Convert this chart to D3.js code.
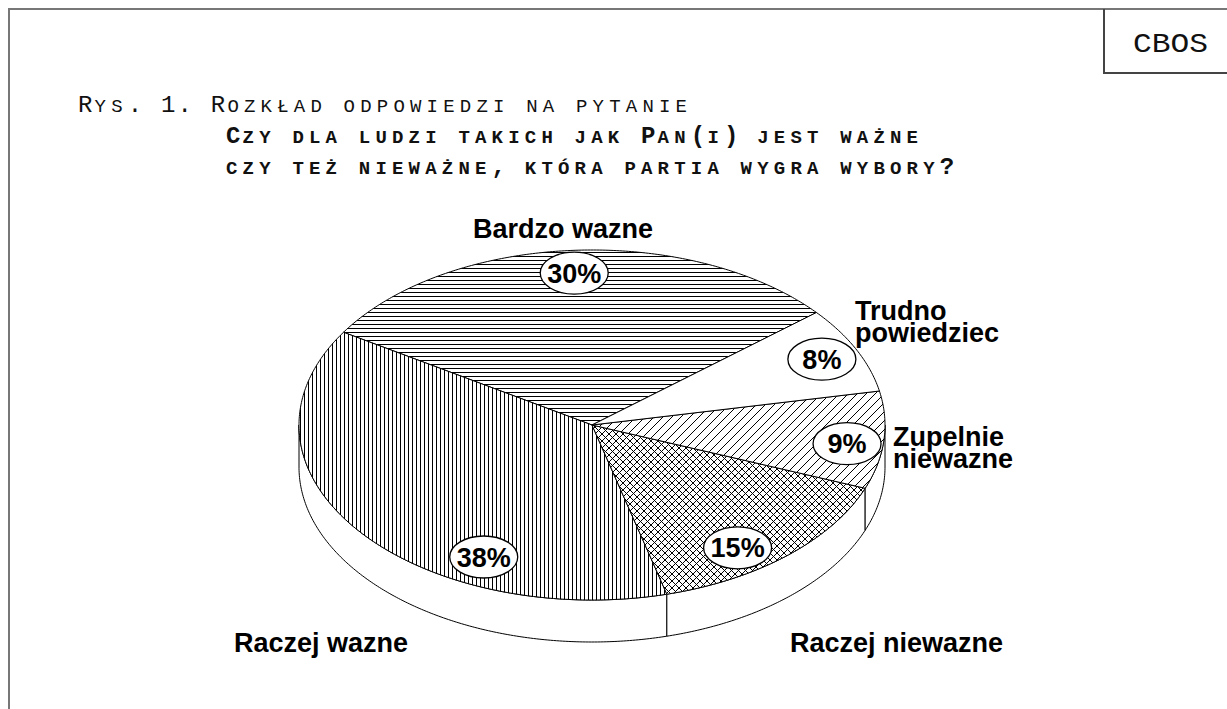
<!DOCTYPE html>
<html lang="pl">
<head>
<meta charset="UTF-8">
<title>CBOS - Rys. 1</title>
<script src="https://d3js.org/d3.v7.min.js"></script>
<style>
  body { margin: 0; background: #fff; }
  svg { display: block; }
</style>
</head>
<body>
<svg></svg>
<script>
const width = 1227, height = 709;

// data
const categories = ["Bardzo wazne", "Raczej wazne", "Raczej niewazne", "Zupelnie niewazne", "Trudno powiedziec"];
const values = [30, 38, 15, 9, 8];
const percentLabels = ["30%", "38%", "15%", "9%", "8%"];
const labelLines = [["Bardzo wazne"], ["Raczej wazne"], ["Raczej niewazne"], ["Zupelnie", "niewazne"], ["Trudno", "powiedziec"]];
const titleLines = [
  "Rys. 1. Rozkład odpowiedzi na pytanie",
  "Czy dla ludzi takich jak Pan(i) jest ważne",
  "czy też nieważne, która partia wygra wybory?"
];

// layout (pie is an ellipse with a 3D rim)
const cx = 592, cy = 425, rx = 293, ry = 175, depth = 42;
const rad = Math.PI / 180;

const fills = {
  "Bardzo wazne": "url(#hlines)",
  "Raczej wazne": "url(#vlines)",
  "Raczej niewazne": "url(#cross)",
  "Zupelnie niewazne": "url(#diag)",
  "Trudno powiedziec": "#fff"
};
// bubble nudges (degrees along the rim, radius fraction)
const bubbleShift = {
  "Bardzo wazne": [0, 0.87],
  "Raczej wazne": [-27.5, 0.84],
  "Raczej niewazne": [6.5, 0.86],
  "Zupelnie niewazne": [2, 0.877],
  "Trudno powiedziec": [0, 0.87]
};
const labelPos = {
  "Bardzo wazne": { x: 563, y: 238, anchor: "middle" },
  "Raczej wazne": { x: 234, y: 652, anchor: "start" },
  "Raczej niewazne": { x: 790, y: 652, anchor: "start" },
  "Zupelnie niewazne": { x: 893, y: 446, anchor: "start" },
  "Trudno powiedziec": { x: 855, y: 320, anchor: "start" }
};

const svg = d3.select("svg")
  .attr("width", width)
  .attr("height", height)
  .attr("viewBox", [0, 0, width, height]);

svg.append("rect").attr("width", width).attr("height", height).attr("fill", "#fff");

// hatch patterns
const defs = svg.append("defs");
function pattern(id, w, h, d) {
  const p = defs.append("pattern").attr("id", id)
    .attr("patternUnits", "userSpaceOnUse")
    .attr("width", w).attr("height", h);
  p.append("rect").attr("width", w).attr("height", h).attr("fill", "#fff");
  p.append("path").attr("d", d).attr("stroke", "#000").attr("stroke-width", 1).attr("fill", "none");
}
pattern("hlines", 8, 4, "M0,0.5H8");
pattern("vlines", 4, 8, "M0.5,0V8");
pattern("diag", 9, 9, "M0,9L9,0M-1,1L1,-1M8,10L10,8");
pattern("cross", 7, 7, "M0,7L7,0M-1,1L1,-1M6,8L8,6M0,0L7,7M-1,6L1,8M6,-1L8,1");

// frame
const frame = svg.append("g").attr("stroke", "#777").attr("stroke-width", 2).attr("fill", "none");
frame.append("path").attr("d", `M9,${height}V9H${width}`);
frame.append("path").attr("d", `M1104,9V73H${width}`).attr("stroke", "#444");

svg.append("text")
  .attr("x", 1133).attr("y", 52)
  .attr("textLength", 75).attr("lengthAdjust", "spacingAndGlyphs")
  .attr("font-family", "'Liberation Mono', 'Courier New', monospace")
  .attr("font-size", 27)
  .attr("fill", "#111")
  .text("CBOS");

// title: monospace grid, lowercase drawn as small capitals
const titleX = [78, 226, 226], titleY = [112, 143, 174];
const advance = 16.6, capSize = 24, smallSize = 19;
svg.append("g")
  .attr("font-family", "'Liberation Mono', 'Courier New', monospace")
  .attr("fill", "#111")
  .selectAll("text")
  .data(titleLines)
  .join("text")
  .attr("y", (d, i) => titleY[i])
  .attr("font-weight", (d, i) => i === 0 ? "normal" : "bold")
  .each(function (d, li) {
    d3.select(this).selectAll("tspan")
      .data(Array.from(d))
      .join("tspan")
      .attr("x", (c, i) => titleX[li] + i * advance)
      .attr("font-size", c => (c !== c.toUpperCase()) ? smallSize : capSize)
      .text(c => c.toUpperCase());
  });

// pie angles; d3 angle 0 = 12 o'clock, ellipse param t = a - 90deg
const pie = d3.pie().sort(null).value(d => d.value)
  .startAngle(50 * rad).endAngle(50 * rad - 2 * Math.PI);
const data = categories.map((c, i) => ({ name: c, value: values[i], pct: percentLabels[i], lines: labelLines[i] }));
const arcs = pie(data).map(a => {
  const t0 = Math.min(a.startAngle, a.endAngle) - Math.PI / 2;
  const t1 = Math.max(a.startAngle, a.endAngle) - Math.PI / 2;
  return Object.assign(a, { t0, t1 });
});

function arcPoints(t0, t1, dy) {
  const n = Math.max(2, Math.ceil(Math.abs(t1 - t0) / 0.01));
  return d3.range(n + 1).map(i => {
    const t = t0 + (t1 - t0) * i / n;
    return [cx + rx * Math.cos(t), cy + ry * Math.sin(t) + dy];
  });
}
const line = d3.line();

// side walls (front half only)
const sides = [];
arcs.forEach(a => {
  [-1, 0, 1].forEach(k => {
    const lo = Math.max(a.t0, 2 * Math.PI * k), hi = Math.min(a.t1, 2 * Math.PI * k + Math.PI);
    if (hi > lo) sides.push(arcPoints(lo, hi, 0).concat(arcPoints(hi, lo, depth)));
  });
});
svg.append("g").selectAll("path")
  .data(sides)
  .join("path")
  .attr("d", d => line(d) + "Z")
  .attr("fill", "#fff")
  .attr("stroke", "#000")
  .attr("stroke-width", 1)
  .attr("stroke-linejoin", "round");

// top slices
svg.append("g").selectAll("path")
  .data(arcs)
  .join("path")
  .attr("d", a => line([[cx, cy]].concat(arcPoints(a.t0, a.t1, 0))) + "Z")
  .attr("fill", a => fills[a.data.name])
  .attr("stroke", "#000")
  .attr("stroke-width", 1)
  .attr("stroke-linejoin", "round");

// percent bubbles
const bubbles = svg.append("g").selectAll("g")
  .data(arcs)
  .join("g")
  .attr("transform", a => {
    const s = bubbleShift[a.data.name];
    const t = (a.t0 + a.t1) / 2 + s[0] * rad;
    return `translate(${cx + s[1] * rx * Math.cos(t)},${cy + s[1] * ry * Math.sin(t)})`;
  });
bubbles.append("ellipse")
  .attr("rx", 34).attr("ry", 21)
  .attr("fill", "#fff").attr("stroke", "#000").attr("stroke-width", 1.3);
bubbles.append("text")
  .attr("y", 9.5)
  .attr("text-anchor", "middle")
  .attr("font-family", "'Liberation Sans', Arial, sans-serif")
  .attr("font-weight", "bold")
  .attr("font-size", 27)
  .attr("fill", "#000")
  .text(a => a.data.pct);

// category labels
const labels = svg.append("g")
  .attr("font-family", "'Liberation Sans', Arial, sans-serif")
  .attr("font-weight", "bold")
  .attr("font-size", 27)
  .attr("fill", "#000")
  .selectAll("text")
  .data(data)
  .join("text")
  .attr("text-anchor", d => labelPos[d.name].anchor)
  .attr("x", d => labelPos[d.name].x)
  .attr("y", d => labelPos[d.name].y);
labels.selectAll("tspan")
  .data(d => d.lines.map((l, i) => ({ l, i, x: labelPos[d.name].x })))
  .join("tspan")
  .attr("x", d => d.x)
  .attr("dy", d => d.i === 0 ? 0 : 22)
  .text(d => d.l);
</script>
</body>
</html>
